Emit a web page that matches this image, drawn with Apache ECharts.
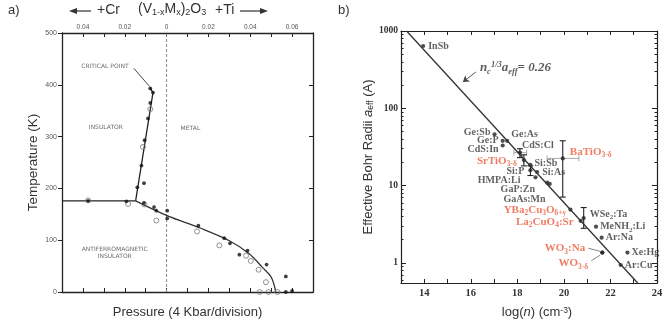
<!DOCTYPE html>
<html>
<head>
<meta charset="utf-8">
<script src="https://cdn.jsdelivr.net/npm/echarts@6/dist/echarts.min.js"></script>
<style>
  html, body { margin: 0; background: #fff; }
  #main { width: 666px; height: 327px; }
</style>
</head>
<body>
<div id="main"></div>
<script>
// a) (V1-xMx)2O3 phase diagram: x = composition (Cr < 0, Ti > 0), y = T (K)
const aTempTicks = [0, 100, 200, 300, 400, 500]
const aAfiEdge = [[-0.05, 176], [-0.0148, 176]]
const aMetalEdge = [[-0.0148, 176], [-0.0065, 385], [-0.0078, 393]]
const aAfmEdge = [[-0.0148, 176], [0.0005, 147], [0.0157, 124], [0.030, 99], [0.0395, 74], [0.0457, 48], [0.050, 29], [0.0522, 0]]
const aZeroLine = [[0, 0], [0, 500]]
const aFilled = [
  [-0.0375, 176], [-0.0192, 175], [-0.014, 202], [-0.0108, 210], [-0.0108, 172],
  [-0.006, 164], [-0.0049, 157], [0.0003, 157], [0.0003, 142], [0.0152, 128],
  [0.0276, 104], [0.0303, 94], [0.0348, 72], [0.0387, 80], [0.0478, 53],
  [0.057, 30], [0.057, 0], [0.060, 2],
  [-0.0078, 393], [-0.0065, 385], [-0.0078, 365], [-0.0089, 335], [-0.0105, 293], [-0.012, 244]
]
const aOpen = [
  [-0.0375, 177], [-0.0184, 170], [-0.0106, 169], [-0.0049, 138], [0.0146, 117],
  [0.0252, 90], [0.038, 70], [0.0403, 60], [0.044, 43], [0.0475, 19],
  [0.0445, 0], [0.0487, 0], [0.053, 0], [-0.0078, 353], [-0.0113, 280]
]
const aTexts = [
  ['CRITICAL POINT', -0.0295, 435],
  ['INSULATOR', -0.029, 318],
  ['METAL', 0.0114, 316],
  ['ANTIFERROMAGNETIC', -0.0248, 83],
  ['INSULATOR', -0.0248, 69]
]
const aCriticalLeader = [[-0.0157, 432], [-0.0082, 397]]

// b) effective Bohr radius vs log(n)
const bRadiusTicks = [1, 10, 100, 1000]
const bLine = [[13.24, 1000], [23.17, 0.55]]
const bPoints = [
  ['InSb', 13.95, 640],
  ['Ge:Sb', 17.02, 46],
  ['Ge:P', 17.37, 38],
  ['Ge:As', 17.56, 38],
  ['CdS:In', 17.37, 33],
  ['CdS:Cl', 18.11, 26.7],
  ['SrTiO_{3-δ}', 18.28, 21.4],
  ['Si:Sb', 18.56, 18.5],
  ['Si:P', 18.56, 15.8],
  ['Si:As', 18.85, 15],
  ['HMPA:Li', 18.78, 12.8],
  ['GaP:Zn', 19.28, 10.9],
  ['GaAs:Mn', 19.39, 10.5],
  ['BaTiO_{3-δ}', 19.95, 22.5],
  ['YBa_{2}Cu_{3}O_{6+y}', 20.28, 4.9],
  ['WSe_{2}:Ta', 20.85, 3.8],
  ['La_{2}CuO_{4}:Sr', 20.72, 3.5],
  ['MeNH_{2}:Li', 21.38, 2.94],
  ['Ar:Na', 21.62, 2.12],
  ['WO_{3}:Na', 21.65, 1.36],
  ['WO_{3-δ}', 21.65, 1.36],
  ['Xe:Hg', 22.73, 1.36],
  ['Ar:Cu', 22.44, 0.94]
]
const bRed = ['SrTiO_{3-δ}', 'BaTiO_{3-δ}', 'YBa_{2}Cu_{3}O_{6+y}', 'La_{2}CuO_{4}:Sr', 'WO_{3}:Na', 'WO_{3-δ}']
// vertical error bars [x, low, high], horizontal [y, left, right]
const bErrY = [[19.95, 7.1, 38], [20.85, 2.8, 5.2], [18.28, 18, 25], [18.56, 13.5, 18], [18.11, 23, 30]]
const bErrX = [[22.5, 19.28, 20.64], [26.7, 17.85, 18.4]]
const bArrow = [[16.22, 2.47], [15.66, 2.34]]
const bWoLeaders = [[[21.05, 0.19], [21.56, 0.15]], [[21.18, 0.03], [21.56, 0.10]]]

// label placement for panel b: [position, dx, dy]
const bLabelPlace = {
  'InSb': ['right', 1, 0],
  'Ge:Sb': ['left', 0, -2],
  'Ge:P': ['left', 0, 0],
  'Ge:As': ['right', 0, -6],
  'CdS:In': ['left', 0, 4],
  'CdS:Cl': ['right', -2, -7],
  'SrTiO_{3-δ}': ['left', -3, 1],
  'Si:Sb': ['right', 0, -2],
  'Si:P': ['left', -2, 1],
  'Si:As': ['right', 1, 0],
  'HMPA:Li': ['left', -11, 3],
  'GaP:Zn': ['left', -8, 7],
  'GaAs:Mn': ['left', 0, 15],
  'BaTiO_{3-δ}': ['right', 3, -6],
  'YBa_{2}Cu_{3}O_{6+y}': ['left', 0, 1],
  'WSe_{2}:Ta': ['right', 2, -4],
  'La_{2}CuO_{4}:Sr': ['left', -3, 1],
  'MeNH_{2}:Li': ['right', 0, 0],
  'Ar:Na': ['right', 0, 0],
  'WO_{3}:Na': ['left', -13, -4],
  'WO_{3-δ}': ['left', -10, 11],
  'Xe:Hg': ['right', 0, 0],
  'Ar:Cu': ['right', 0, 0]
}

const lg = v => Math.log10(v)
const bYMin = -0.26
const minorTicks = []
for (let d = 0.1; d < 1000; d *= 10) {
  for (let k = 2; k <= 9; k++) {
    const v = Math.log10(k * d)
    if (v > bYMin && v < 3) minorTicks.push(v)
  }
}
const majorTicks = bRadiusTicks.map(lg)

function richText (txt, red) {
  const b = red ? 'r' : 'k'
  return txt.split(/(_\{[^}]*\})/).filter(Boolean)
    .map(p => p.startsWith('_{') ? '{' + b + 's|' + p.slice(2, -1) + '}' : '{' + b + '|' + p + '}')
    .join('')
}

const serif = 'Liberation Serif'
const sans = 'Liberation Sans'
const redColor = '#ee5a3c'
const labelRich = {
  k: { fontFamily: serif, fontWeight: 'bold', fontSize: 10, color: '#3a3a3a', lineHeight: 13 },
  ks: { fontFamily: serif, fontWeight: 'bold', fontSize: 7, color: '#3a3a3a', lineHeight: 7, verticalAlign: 'bottom' },
  r: { fontFamily: serif, fontWeight: 'bold', fontSize: 11, color: redColor, lineHeight: 14 },
  rs: { fontFamily: serif, fontWeight: 'bold', fontSize: 7.5, color: redColor, lineHeight: 8, verticalAlign: 'bottom' }
}

const chart = echarts.init(document.getElementById('main'))
const axisColor = '#222'

const option = {
  animation: false,
  backgroundColor: '#fff',
  grid: [
    { left: 62, top: 33, width: 251, height: 259 },
    { left: 401, top: 31, width: 256, height: 252 }
  ],
  xAxis: [
    {
      gridIndex: 0,
      type: 'value',
      min: -0.05,
      max: 0.07,
      interval: 0.01,
      position: 'bottom',
      axisLine: { onZero: false, lineStyle: { color: axisColor, width: 1.3 } },
      axisTick: { inside: true, length: 4, lineStyle: { color: axisColor } },
      axisLabel: { show: false },
      splitLine: { show: false },
      name: 'Pressure (4 Kbar/division)',
      nameLocation: 'middle',
      nameGap: 14,
      nameTextStyle: { fontFamily: sans, fontSize: 13, color: '#333' }
    },
    {
      gridIndex: 0,
      type: 'value',
      min: -0.05,
      max: 0.07,
      interval: 0.01,
      position: 'top',
      axisLine: { onZero: false, lineStyle: { color: axisColor, width: 1.3 } },
      axisTick: { inside: true, length: 4, lineStyle: { color: axisColor } },
      axisLabel: {
        fontSize: 6.5,
        color: '#555',
        margin: 2,
        formatter: v => {
          const n = Math.round(v * 100)
          if (n % 2 !== 0) return ''
          if (n === 0) return '0'
          return Math.abs(v).toFixed(2)
        }
      },
      splitLine: { show: false }
    },
    {
      gridIndex: 1,
      type: 'value',
      min: 13,
      max: 24,
      interval: 1,
      position: 'bottom',
      axisLine: { onZero: false, lineStyle: { color: axisColor, width: 1.2 } },
      axisTick: { inside: true, length: 4, lineStyle: { color: axisColor } },
      axisLabel: {
        margin: 5,
        fontFamily: serif,
        fontWeight: 'bold',
        fontSize: 10.5,
        color: '#333',
        formatter: v => (v % 2 === 0 ? String(v) : '')
      },
      splitLine: { show: false },
      name: 'log({i|n}) (cm{sup|-3})',
      nameLocation: 'middle',
      nameGap: 23,
      nameTextStyle: {
        fontFamily: sans,
        fontSize: 13,
        color: '#333',
        padding: [0, 0, 0, 16],
        rich: {
          i: { fontFamily: sans, fontSize: 13, fontStyle: 'italic', color: '#333' },
          sup: { fontFamily: sans, fontSize: 8.5, color: '#333', lineHeight: 8, verticalAlign: 'top' }
        }
      }
    },
    {
      gridIndex: 1,
      type: 'value',
      min: 13,
      max: 24,
      interval: 1,
      position: 'top',
      axisLine: { onZero: false, lineStyle: { color: axisColor, width: 1.2 } },
      axisTick: { inside: true, length: 4, lineStyle: { color: axisColor } },
      axisLabel: { show: false },
      splitLine: { show: false }
    }
  ],
  yAxis: [
    {
      gridIndex: 0,
      type: 'value',
      min: 0,
      max: 500,
      interval: 100,
      position: 'left',
      axisLine: { show: true, onZero: false, lineStyle: { color: axisColor, width: 1.3 } },
      axisTick: { show: true, inside: false, length: 4, lineStyle: { color: axisColor } },
      axisLabel: { fontSize: 7, color: '#555', margin: 5, formatter: v => (aTempTicks.includes(v) ? String(v) : '') },
      splitLine: { show: false },
      name: 'Temperature (K)',
      nameLocation: 'middle',
      nameGap: 22,
      nameTextStyle: { fontFamily: sans, fontSize: 13.5, color: '#333' }
    },
    {
      gridIndex: 0,
      type: 'value',
      min: 0,
      max: 500,
      interval: 100,
      position: 'right',
      axisLine: { show: true, onZero: false, lineStyle: { color: axisColor, width: 1.3 } },
      axisTick: { show: true, inside: true, length: 4, lineStyle: { color: axisColor } },
      axisLabel: { show: false },
      splitLine: { show: false }
    },
    {
      gridIndex: 1,
      type: 'value',
      min: bYMin,
      max: 3,
      position: 'left',
      axisLine: { show: true, onZero: false, lineStyle: { color: axisColor, width: 1.2 } },
      axisTick: { show: true, inside: true, length: 5, customValues: majorTicks, lineStyle: { color: axisColor } },
      axisLabel: {
        customValues: majorTicks,
        margin: 3,
        fontFamily: serif,
        fontWeight: 'bold',
        fontSize: 9.5,
        color: '#333',
        formatter: v => String(Math.round(Math.pow(10, v)))
      },
      splitLine: { show: false },
      name: 'Effective Bohr Radii {i|a}{sub|eff} (A)',
      nameLocation: 'middle',
      nameGap: 25,
      nameTextStyle: {
        fontFamily: sans,
        fontSize: 13,
        color: '#333',
        rich: {
          i: { fontFamily: sans, fontSize: 13, fontStyle: 'italic', color: '#333' },
          sub: { fontFamily: sans, fontSize: 8.5, color: '#333', lineHeight: 8, verticalAlign: 'bottom' }
        }
      }
    },
    {
      gridIndex: 1,
      type: 'value',
      min: bYMin,
      max: 3,
      position: 'left',
      axisLine: { show: false, onZero: false },
      axisTick: { show: true, inside: true, length: 2.5, customValues: minorTicks, lineStyle: { color: axisColor } },
      axisLabel: { show: false },
      splitLine: { show: false }
    },
    {
      gridIndex: 1,
      type: 'value',
      min: bYMin,
      max: 3,
      position: 'right',
      axisLine: { show: true, onZero: false, lineStyle: { color: axisColor, width: 1.2 } },
      axisTick: { show: true, inside: true, length: 5, customValues: majorTicks, lineStyle: { color: axisColor } },
      axisLabel: { show: false },
      splitLine: { show: false }
    },
    {
      gridIndex: 1,
      type: 'value',
      min: bYMin,
      max: 3,
      position: 'right',
      axisLine: { show: false, onZero: false },
      axisTick: { show: true, inside: true, length: 2.5, customValues: minorTicks, lineStyle: { color: axisColor } },
      axisLabel: { show: false },
      splitLine: { show: false }
    }
  ],
  series: [
    // ---- panel a ----
    {
      type: 'line', xAxisIndex: 0, yAxisIndex: 0, data: aZeroLine, symbol: 'none',
      lineStyle: { color: '#888', width: 1, type: [3, 2] }, z: 1
    },
    {
      type: 'line', xAxisIndex: 0, yAxisIndex: 0, data: aAfiEdge, symbol: 'none',
      lineStyle: { color: '#222', width: 1.3 }
    },
    {
      type: 'line', xAxisIndex: 0, yAxisIndex: 0, data: aMetalEdge, symbol: 'none',
      lineStyle: { color: '#222', width: 1.3 }
    },
    {
      type: 'line', xAxisIndex: 0, yAxisIndex: 0, data: aAfmEdge, symbol: 'none', smooth: 0.35,
      lineStyle: { color: '#333', width: 1.3 }
    },
    {
      type: 'scatter', xAxisIndex: 0, yAxisIndex: 0, data: aOpen, symbol: 'circle', symbolSize: 5,
      itemStyle: { color: 'rgba(255,255,255,0)', borderColor: '#777', borderWidth: 1 }, z: 3
    },
    {
      type: 'scatter', xAxisIndex: 0, yAxisIndex: 0, data: aFilled, symbolSize: 3.8,
      itemStyle: { color: '#111' }, z: 3
    },
    {
      type: 'scatter', xAxisIndex: 0, yAxisIndex: 0, symbolSize: 0,
      data: aTexts.map(t => ({ name: t[0], value: [t[1], t[2]] })),
      label: {
        show: true, position: 'inside', formatter: p => p.name,
        fontFamily: 'DejaVu Sans', fontSize: 6, color: '#444'
      },
      markLine: {
        silent: true, symbol: 'none', label: { show: false },
        lineStyle: { color: '#333', width: 0.9, type: 'solid' },
        data: [[{ coord: aCriticalLeader[0] }, { coord: aCriticalLeader[1] }]]
      }
    },
    // ---- panel b ----
    {
      type: 'line', xAxisIndex: 2, yAxisIndex: 2, symbol: 'none',
      data: bLine.map(p => [p[0], lg(p[1])]),
      lineStyle: { color: '#333', width: 1.3 }
    },
    {
      type: 'custom', xAxisIndex: 2, yAxisIndex: 2,
      data: bErrX.map(e => [e[1], lg(e[0]), e[2]]),
      renderItem: (params, api) => {
        const a = api.coord([api.value(0), api.value(1)])
        const b = api.coord([api.value(2), api.value(1)])
        const st = { stroke: '#aaa', lineWidth: 1 }
        return {
          type: 'group',
          children: [
            { type: 'line', shape: { x1: a[0], y1: a[1], x2: b[0], y2: b[1] }, style: st },
            { type: 'line', shape: { x1: a[0], y1: a[1] - 3, x2: a[0], y2: a[1] + 3 }, style: st },
            { type: 'line', shape: { x1: b[0], y1: b[1] - 3, x2: b[0], y2: b[1] + 3 }, style: st }
          ]
        }
      }
    },
    {
      type: 'custom', xAxisIndex: 2, yAxisIndex: 2,
      data: bErrY.map(e => [e[0], lg(e[1]), lg(e[2])]),
      renderItem: (params, api) => {
        const a = api.coord([api.value(0), api.value(1)])
        const b = api.coord([api.value(0), api.value(2)])
        const st = { stroke: '#222', lineWidth: 1.1 }
        return {
          type: 'group',
          children: [
            { type: 'line', shape: { x1: a[0], y1: a[1], x2: b[0], y2: b[1] }, style: st },
            { type: 'line', shape: { x1: a[0] - 3, y1: a[1], x2: a[0] + 3, y2: a[1] }, style: st },
            { type: 'line', shape: { x1: b[0] - 3, y1: b[1], x2: b[0] + 3, y2: b[1] }, style: st }
          ]
        }
      }
    },
    {
      type: 'scatter', xAxisIndex: 2, yAxisIndex: 2, symbolSize: 4.2,
      itemStyle: { color: '#222' },
      data: bPoints.map(p => {
        const pl = bLabelPlace[p[0]]
        return {
          name: p[0],
          value: [p[1], lg(p[2])],
          label: { position: pl[0], offset: [pl[1], pl[2]] }
        }
      }),
      label: {
        show: true,
        distance: 2,
        formatter: p => richText(p.name, bRed.includes(p.name)),
        rich: labelRich
      },
      markLine: {
        silent: true, symbol: 'none', label: { show: false },
        lineStyle: { color: '#666', width: 0.8, type: 'solid' },
        data: bWoLeaders.map(l => [{ coord: [l[0][0], l[0][1]] }, { coord: [l[1][0], l[1][1]] }])
      }
    },
    {
      type: 'scatter', xAxisIndex: 2, yAxisIndex: 2, symbolSize: 0,
      data: [[16.39, 2.52]],
      label: {
        show: true, position: 'right', distance: 0,
        formatter: '{t|n}{ts|c}{tp|1/3}{t|a}{ts|eff}{t|= 0.26}',
        rich: {
          t: { fontFamily: serif, fontWeight: 'bold', fontStyle: 'italic', fontSize: 13, color: '#333', lineHeight: 16 },
          ts: { fontFamily: serif, fontWeight: 'bold', fontStyle: 'italic', fontSize: 8.5, color: '#333', lineHeight: 8, verticalAlign: 'bottom' },
          tp: { fontFamily: serif, fontWeight: 'bold', fontStyle: 'italic', fontSize: 8.5, color: '#333', lineHeight: 8, verticalAlign: 'top' }
        }
      },
      markLine: {
        silent: true, symbol: ['none', 'arrow'], symbolSize: 6, label: { show: false },
        lineStyle: { color: '#444', width: 0.9, type: 'solid' },
        data: [[{ coord: bArrow[0] }, { coord: bArrow[1] }]]
      }
    }
  ],
  graphic: [
    { type: 'text', left: 8, top: 4, style: { text: 'a)', fontFamily: sans, fontSize: 13, fill: '#333' } },
    { type: 'text', left: 338, top: 4, style: { text: 'b)', fontFamily: sans, fontSize: 13, fill: '#333' } },
    { type: 'line', shape: { x1: 74, y1: 11, x2: 91, y2: 11 }, style: { stroke: '#333', lineWidth: 1.2 } },
    { type: 'polygon', shape: { points: [[69, 11], [77, 8], [77, 14]] }, style: { fill: '#333' } },
    { type: 'text', left: 97, top: 3, style: { text: '+Cr', fontFamily: sans, fontSize: 14, fill: '#333' } },
    {
      type: 'text', left: 138, top: 2,
      style: {
        text: '{n|(V}{s|1-x}{n|M}{s|x}{n|)}{s|2}{n|O}{s|3}',
        rich: {
          n: { fontFamily: sans, fontSize: 14, fill: '#333', lineHeight: 17 },
          s: { fontFamily: sans, fontSize: 9, fill: '#333', lineHeight: 9, verticalAlign: 'bottom' }
        }
      }
    },
    { type: 'text', left: 215, top: 3, style: { text: '+Ti', fontFamily: sans, fontSize: 14, fill: '#333' } },
    { type: 'line', shape: { x1: 240, y1: 11, x2: 263, y2: 11 }, style: { stroke: '#333', lineWidth: 1.2 } },
    { type: 'polygon', shape: { points: [[268, 11], [260, 8], [260, 14]] }, style: { fill: '#333' } }
  ]
}

chart.setOption(option)
</script>
</body>
</html>
